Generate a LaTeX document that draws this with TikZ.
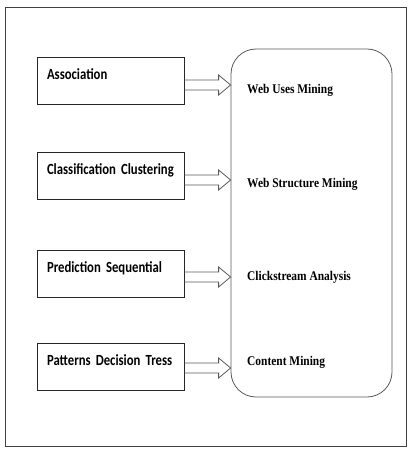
\documentclass[tikz,border=0pt]{standalone}
\usepackage{fontspec}
\setmainfont{Liberation Serif}
\newfontfamily\leftfont[FakeStretch=0.82]{Carlito}
\newfontfamily\rightfont[FakeStretch=0.86]{Liberation Serif}
\usetikzlibrary{calc}

\begin{document}
\begin{tikzpicture}[x=1pt, y=1pt,
  frame/.style={draw=black!75, line width=1pt},
  methodbox/.style={
    rectangle, draw=black!85, line width=0.9pt,
    minimum width=147pt, minimum height=47pt,
    text width=127pt, inner xsep=10pt,
    text height=11pt, text depth=13pt, align=left,
    font=\leftfont\fontsize{15.5}{17}\selectfont\bfseries},
  areabox/.style={
    rectangle, rounded corners=25pt, draw=black!65, line width=0.8pt,
    minimum width=161pt, minimum height=348pt},
  arealbl/.style={anchor=west, inner sep=0pt,
    font=\rightfont\fontsize{13.3}{15}\selectfont\bfseries},
  hollow/.style={draw=black!65, line width=0.8pt, line join=miter}
]
\useasboundingbox (0,0) rectangle (414,-454);

%% outer frame
\draw[frame] (5,-8) rectangle (406,-446);

%% -- LEFT: techniques --------------------------------------
\node[methodbox] (assoc)   at (110.5,-80.5) {Association};
\node[methodbox] (classif) at (110.5,-176)  {Classification Clustering};
\node[methodbox] (predict) at (110.5,-273.5){Prediction Sequential};
\node[methodbox] (pattern) at (110.5,-366.5){Patterns Decision Tress};

%% -- RIGHT: mining areas -----------------------------------
\node[areabox] (mining) at (311.5,-223) {};

\node[arealbl] (usage)  at (247,-90)  {Web Uses Mining};
\node[arealbl] (struct) at (247,-184) {Web Structure Mining};
\node[arealbl] (click)  at (247,-277) {Clickstream Analysis};
\node[arealbl] (content) at (247,-362) {Content Mining};

%% hollow block arrows into the area box
\foreach \src/\dy in {assoc/-4.5, classif/-4, predict/-3.5, pattern/-1.5} {
  \coordinate (s) at ($(\src.east)+(0,\dy)$);
  \coordinate (t) at (mining.west |- s);
  \draw[hollow] ($(s)+(0,5)$) -- ($(t)+(-12,5)$) -- ++(0,5) -- (t)
    -- ($(t)+(-12,-10)$) -- ++(0,5) -- ($(s)+(0,-5)$);
}

\end{tikzpicture}
\end{document}
